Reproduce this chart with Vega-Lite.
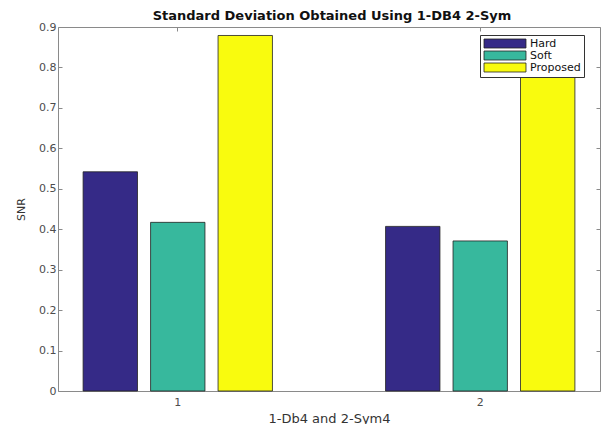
{
  "$schema": "https://vega.github.io/schema/vega-lite/v6.json",
  "width": 542,
  "height": 364,
  "autosize": {"type": "none"},
  "padding": {"left": 58, "top": 27, "right": 1, "bottom": 33},
  "background": "white",
  "config": {
    "view": {"stroke": "#8a8a8a", "strokeWidth": 1},
    "font": "DejaVu Sans"
  },
  "title": {
    "text": "Standard Deviation Obtained Using 1-DB4 2-Sym",
    "font": "DejaVu Sans",
    "fontSize": 13,
    "fontWeight": "bold",
    "color": "#111111",
    "anchor": "middle",
    "baseline": "alphabetic",
    "offset": 7,
    "dx": 3,
    "dy": 19
  },
  "data": {
    "values": [
      {"group": "1", "method": "Hard", "value": 0.542},
      {"group": "1", "method": "Soft", "value": 0.417},
      {"group": "1", "method": "Proposed", "value": 0.879},
      {"group": "2", "method": "Hard", "value": 0.407},
      {"group": "2", "method": "Soft", "value": 0.371},
      {"group": "2", "method": "Proposed", "value": 0.82}
    ]
  },
  "layer": [
    {
      "mark": {"type": "bar", "stroke": "#222222", "strokeWidth": 0.8},
      "encoding": {
        "x": {
          "field": "group",
          "type": "nominal",
          "scale": {"paddingInner": 0.374, "paddingOuter": 0.083},
          "axis": {
            "orient": "bottom",
            "labelAngle": 0,
            "domain": false,
            "tickColor": "#8a8a8a",
            "tickSize": -4,
            "labelPadding": 9,
            "labelFont": "DejaVu Sans",
            "labelFontSize": 11,
            "labelColor": "#4d4d4d",
            "title": "1-Db4 and 2-Sym4",
            "titleFont": "DejaVu Sans",
            "titleFontSize": 13,
            "titleFontWeight": "normal",
            "titleColor": "#333333",
            "titlePadding": 5
          }
        },
        "xOffset": {
          "field": "method",
          "sort": ["Hard", "Soft", "Proposed"],
          "scale": {"paddingInner": 0.194, "paddingOuter": 0}
        },
        "y": {
          "field": "value",
          "type": "quantitative",
          "scale": {"domain": [0, 0.9], "nice": false},
          "axis": {
            "orient": "left",
            "values": [0, 0.1, 0.2, 0.3, 0.4, 0.5, 0.6, 0.7, 0.8, 0.9],
            "format": ".1~f",
            "grid": false,
            "domain": false,
            "tickColor": "#8a8a8a",
            "tickSize": -4,
            "labelPadding": 6,
            "labelFont": "DejaVu Sans",
            "labelFontSize": 11,
            "labelColor": "#4d4d4d",
            "title": "SNR",
            "titleFont": "DejaVu Sans",
            "titleFontSize": 11,
            "titleFontWeight": "normal",
            "titleColor": "#333333",
            "titlePadding": 12
          }
        },
        "color": {
          "field": "method",
          "type": "nominal",
          "sort": ["Hard", "Soft", "Proposed"],
          "scale": {"domain": ["Hard", "Soft", "Proposed"], "range": ["#352a87", "#37b89d", "#f9fb0e"]},
          "legend": {
            "title": null,
            "orient": "none",
            "legendX": 422,
            "legendY": 8,
            "direction": "vertical",
            "padding": 3,
            "strokeColor": "#333333",
            "fillColor": "white",
            "symbolType": "M-1,-1H8.33V1H-1Z",
            "symbolSize": 81,
            "symbolStrokeColor": "#222222",
            "symbolStrokeWidth": 0.8,
            "symbolOpacity": 1,
            "labelOffset": 36,
            "labelFont": "DejaVu Sans",
            "labelFontSize": 11,
            "labelColor": "#111111",
            "rowPadding": -4
          }
        }
      }
    },
    {
      "mark": {"type": "bar", "opacity": 0},
      "encoding": {
        "x": {
          "field": "group",
          "type": "nominal",
          "axis": {"orient": "top", "labels": false, "domain": false, "title": null, "tickColor": "#8a8a8a", "tickSize": -4}
        },
        "xOffset": {"field": "method", "sort": ["Hard", "Soft", "Proposed"]},
        "y": {
          "field": "value",
          "type": "quantitative",
          "axis": {
            "orient": "right",
            "values": [0, 0.1, 0.2, 0.3, 0.4, 0.5, 0.6, 0.7, 0.8, 0.9],
            "labels": false,
            "grid": false,
            "domain": false,
            "title": null,
            "tickColor": "#8a8a8a",
            "tickSize": -4
          }
        }
      }
    }
  ],
  "resolve": {"axis": {"x": "independent", "y": "independent"}}
}
